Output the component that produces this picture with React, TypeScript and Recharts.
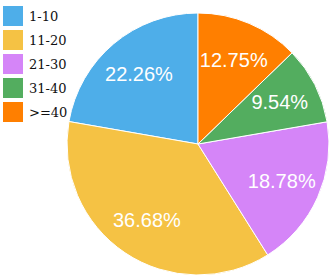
import React from 'react';
import { PieChart, Pie, Cell } from 'recharts';

const categories = ['1-10', '11-20', '21-30', '31-40', '>=40'];
const shares = [22.26, 36.68, 18.78, 9.54, 12.75];
const colors = ['#4eaee9', '#f5c244', '#d585f8', '#53ad5f', '#ff7f00'];

const data = categories.map((name, i) => ({ name, value: shares[i] }));

const RAD = Math.PI / 180;

const renderLabel = (props: any) => {
  const { cx, cy, midAngle, outerRadius, index } = props;
  const r = outerRadius * 0.7;
  const x = cx + r * Math.cos(-midAngle * RAD);
  const y = cy + r * Math.sin(-midAngle * RAD);
  return (
    <text
      x={x}
      y={y}
      fill="#fff"
      textAnchor="middle"
      dominantBaseline="central"
      fontFamily="'Liberation Sans', Arial, sans-serif"
      fontSize={20}
    >
      {shares[index].toFixed(2)}%
    </text>
  );
};

export default function App() {
  return (
    <div style={{ position: 'absolute', left: 0, top: 0, width: 332, height: 280, background: '#fff' }}>
      <PieChart width={332} height={280} margin={{ top: 0, right: 0, bottom: 0, left: 0 }}>
        <Pie
          data={data}
          dataKey="value"
          nameKey="name"
          cx={198}
          cy={144}
          outerRadius={131}
          startAngle={90}
          endAngle={450}
          stroke="#fff"
          strokeWidth={1}
          label={renderLabel}
          labelLine={false}
          isAnimationActive={false}
        >
          {data.map((d, i) => (
            <Cell key={d.name} fill={colors[i]} />
          ))}
        </Pie>
      </PieChart>
      {/* legend */}
      <div style={{ position: 'absolute', left: 3, top: 6 }}>
        {categories.map((c, i) => (
          <div key={c} style={{ display: 'flex', alignItems: 'center', height: 20, marginBottom: 4 }}>
            <div style={{ width: 20, height: 20, background: colors[i] }} />
            <span style={{ marginLeft: 6, fontFamily: "'DejaVu Serif', serif", fontSize: 13, color: '#111' }}>{c}</span>
          </div>
        ))}
      </div>
    </div>
  );
}
